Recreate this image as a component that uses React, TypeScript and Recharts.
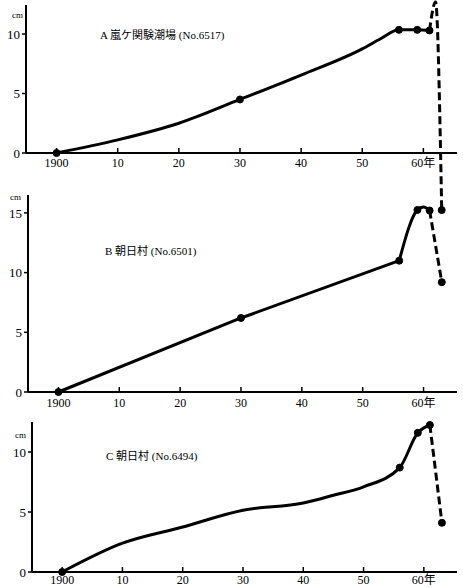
import { LineChart, Line, XAxis, YAxis } from "recharts";

// 年 (x) と cm (y) — 図から読み取った値
const YEAR_TICKS = [1900, 1910, 1920, 1930, 1940, 1950, 1960];
const X_DOMAIN = [1895, 1965.5];

// A 嵐ケ関験潮場 (No.6517)
const A_LINE_YEARS = [1900, 1910, 1920, 1930, 1940, 1950, 1953, 1956, 1959, 1961];
const A_LINE_CM = [0, 1.1, 2.5, 4.5, 6.55, 8.75, 9.6, 10.35, 10.35, 10.3];
const A_DASH_YEARS = [1961, 1962, 1963];
const A_DASH_CM = [10.3, 12.7, -4.8];
const A_DOT_YEARS = [1900, 1930, 1956, 1959, 1961, 1963];
const A_DOT_CM = [0, 4.5, 10.35, 10.35, 10.3, -4.8];

// B 朝日村 (No.6501)
const B_STRAIGHT_YEARS = [1900, 1930, 1956];
const B_STRAIGHT_CM = [0, 6.2, 11.0];
const B_LINE_YEARS = [1956, 1959, 1960, 1961];
const B_LINE_CM = [11.0, 15.25, 15.5, 15.2];
const B_DASH_YEARS = [1961, 1963];
const B_DASH_CM = [15.2, 9.2];
const B_DOT_YEARS = [1900, 1930, 1956, 1959, 1961, 1963];
const B_DOT_CM = [0, 6.2, 11.0, 15.25, 15.2, 9.2];

// C 朝日村 (No.6494)
const C_LINE_YEARS = [1900, 1910, 1920, 1930, 1940, 1945, 1950, 1956, 1959, 1961];
const C_LINE_CM = [0, 2.4, 3.75, 5.15, 5.75, 6.4, 7.1, 8.7, 11.6, 12.25];
const C_DASH_YEARS = [1961, 1963];
const C_DASH_CM = [12.25, 4.1];
const C_DOT_YEARS = [1900, 1956, 1959, 1961, 1963];
const C_DOT_CM = [0, 8.7, 11.6, 12.25, 4.1];

const FONT = '"Liberation Serif", "Noto Sans CJK JP", serif';

type Pt = { year: number; cm: number };
const zip = (xs: number[], ys: number[]): Pt[] => xs.map((year, i) => ({ year, cm: ys[i] }));

const fmtYear = (v: number) => (v === 1900 ? "1900" : v === 1960 ? "60年" : String(v - 1900));

const makeXTick = (offset: number) => (props: any) => {
  const { x, y, payload } = props;
  return (
    <g>
      <line x1={x} x2={x} y1={y} y2={y - 5} stroke="#000" strokeWidth={1.5} />
      <text x={x} y={y + offset} textAnchor="middle" fontSize={12} fontFamily={FONT} fill="#000">
        {fmtYear(payload.value)}
      </text>
    </g>
  );
};

interface PanelProps {
  top: number; height: number; mTop: number; mBottom: number; yWidth: number;
  yMax: number; yTicks: number[]; labelOffset: number;
  straight?: Pt[]; curve: Pt[]; dash: Pt[]; dots: Pt[];
}

function Panel({ top, height, mTop, mBottom, yWidth, yMax, yTicks, labelOffset, straight, curve, dash, dots }: PanelProps) {
  const XTick = makeXTick(labelOffset);
  return (
    <div style={{ position: "absolute", left: 0, top, width: 463, height }}>
      <LineChart width={463} height={height} margin={{ top: mTop, right: 6, bottom: mBottom, left: 0 }}>
        <XAxis
          type="number" dataKey="year" domain={X_DOMAIN} allowDataOverflow ticks={YEAR_TICKS}
          height={15} tickSize={0} tickMargin={0} tickLine={false} tick={<XTick />}
          axisLine={{ stroke: "#000", strokeWidth: 2 }}
        />
        <YAxis
          type="number" dataKey="cm" domain={[0, yMax]} allowDataOverflow ticks={yTicks} width={yWidth}
          tickSize={4} tickMargin={2} tick={{ fontSize: 13, fill: "#000", fontFamily: FONT }}
          tickLine={{ stroke: "#000", strokeWidth: 1.5 }} axisLine={{ stroke: "#000", strokeWidth: 2 }}
        />
        {straight && (
          <Line data={straight} dataKey="cm" type="linear" stroke="#000" strokeWidth={3} dot={false} isAnimationActive={false} />
        )}
        <Line data={curve} dataKey="cm" type="monotone" stroke="#000" strokeWidth={3} dot={false} isAnimationActive={false} />
        <Line data={dash} dataKey="cm" type="monotone" stroke="#000" strokeWidth={3} strokeDasharray="8 4" dot={false} isAnimationActive={false} />
        <Line data={dots} dataKey="cm" stroke="none" dot={{ r: 3.5, fill: "#000", stroke: "#000", strokeWidth: 1 }} isAnimationActive={false} />
      </LineChart>
    </div>
  );
}

const label = (left: number, top: number, text: string, size = 12): any => (
  <div style={{ position: "absolute", left, top, fontSize: size, fontFamily: FONT, color: "#000", lineHeight: 1, whiteSpace: "nowrap" }}>
    {text}
  </div>
);

export default function App() {
  return (
    <div style={{ position: "absolute", left: 0, top: 0, width: 463, height: 587, background: "#fff", overflow: "hidden" }}>
      <style>{`
        .recharts-surface, .recharts-wrapper { overflow: visible !important; }
        .recharts-surface [clip-path] { clip-path: none !important; }
      `}</style>
      <Panel top={0} height={170} mTop={5} mBottom={2} yWidth={26} yMax={12.44} yTicks={[0, 5, 10]} labelOffset={14}
        curve={zip(A_LINE_YEARS, A_LINE_CM)} dash={zip(A_DASH_YEARS, A_DASH_CM)} dots={zip(A_DOT_YEARS, A_DOT_CM)} />
      <Panel top={180} height={230} mTop={15} mBottom={3} yWidth={28} yMax={16.5} yTicks={[0, 5, 10, 15]} labelOffset={15}
        straight={zip(B_STRAIGHT_YEARS, B_STRAIGHT_CM)} curve={zip(B_LINE_YEARS, B_LINE_CM)}
        dash={zip(B_DASH_YEARS, B_DASH_CM)} dots={zip(B_DOT_YEARS, B_DOT_CM)} />
      <Panel top={410} height={177} mTop={12} mBottom={0} yWidth={32} yMax={12.5} yTicks={[0, 5, 10]} labelOffset={12}
        curve={zip(C_LINE_YEARS, C_LINE_CM)} dash={zip(C_DASH_YEARS, C_DASH_CM)} dots={zip(C_DOT_YEARS, C_DOT_CM)} />
      {label(12, 11, "cm", 9)}
      {label(10, 193, "cm", 9)}
      {label(15, 431, "cm", 9)}
      {label(100, 30, "A 嵐ケ関験潮場 (No.6517)", 11)}
      {label(105, 246, "B 朝日村 (No.6501)", 11)}
      {label(106, 451, "C 朝日村 (No.6494)", 11)}
    </div>
  );
}
